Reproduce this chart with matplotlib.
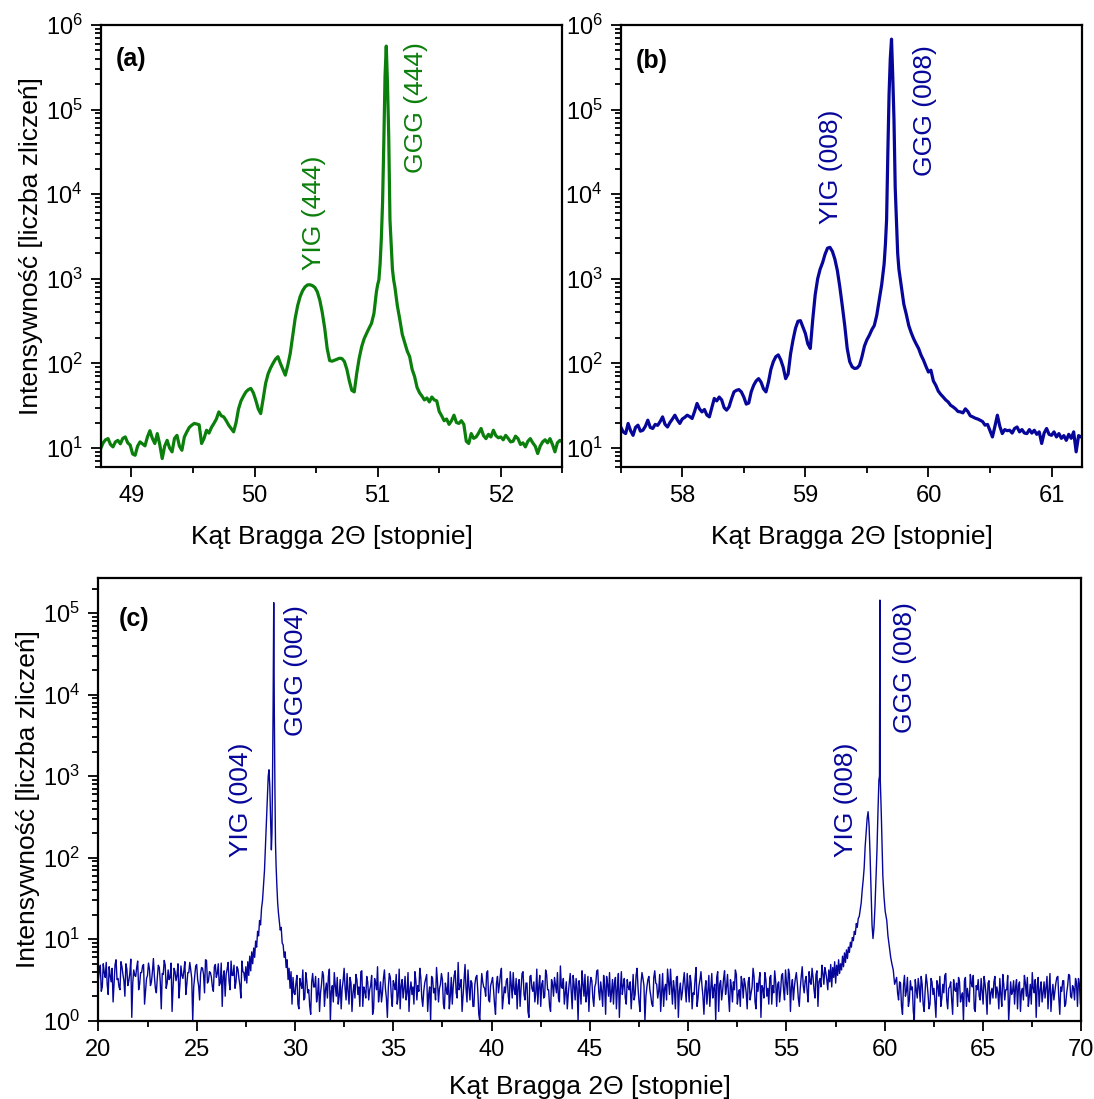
import numpy as np
import matplotlib
matplotlib.use("Agg")
import matplotlib.pyplot as plt
from matplotlib.ticker import MultipleLocator, LogLocator, NullFormatter


# -----------------------------
# Data
# -----------------------------

# (a) YIG (444) / GGG (444), scan in two 0.02 deg steps plus the sharp peak
a_start_1 = 48.75
a_vals_1 = [
    9.8, 11.5, 12.5, 12.9, 11.0, 10.3, 11.8, 12.3, 11.2, 13.0,
    13.5, 11.5, 10.8, 8.5, 8.2, 10.5, 11.8, 11.2, 10.6, 13.5,
    16.0, 13.0, 11.3, 14.8, 11.0, 7.5, 10.5, 12.3, 10.0, 9.0,
    13.0, 14.1, 10.5, 9.4, 13.5, 15.5, 17.5, 18.6, 19.5, 19.2,
    18.8, 11.3, 13.0, 16.2, 15.0, 17.5, 19.5, 22.0, 26.7, 24.0,
    23.3, 21.0, 18.6, 17.0, 15.5, 20.0, 29.0, 36.0, 41.0, 46.0,
    49.0, 50.6, 45.0, 36.7, 29.0, 25.5, 38.0, 58.0, 75.0, 88.0,
    100.0, 112.0, 120.0, 100.0, 85.0, 72.6, 95.0, 131.0, 210.0, 340.0,
    480.0, 614.0, 720.0, 800.0, 845.0, 850.0, 830.0, 790.0, 700.0, 560.0,
    400.0, 260.0, 150.0, 108.0, 106.0, 109.0, 112.0, 115.0, 114.0, 105.0,
    85.0, 62.0, 48.0, 46.0, 76.0, 115.0, 157.0, 195.0, 226.0, 260.0,
    297.0, 390.0, 700.0,
]
a_peak_theta = [51.00, 51.01, 51.02, 51.03, 51.04, 51.05, 51.06, 51.07,
                51.08, 51.09, 51.10, 51.11, 51.12, 51.13]
a_peak_vals = [850.0, 970.0, 1500.0, 3000.0, 8000.0, 40000.0, 250000.0,
               562000.0, 200000.0, 48000.0, 5000.0, 2500.0, 1300.0, 970.0]
a_start_2 = 51.14
a_vals_2 = [
    800.0, 480.0, 330.0, 220.0, 175.0, 140.0, 120.0, 85.0, 70.0, 52.0,
    45.0, 41.0, 37.0, 39.0, 35.0, 40.0, 37.0, 36.0, 27.0, 24.0,
    21.0, 22.0, 19.0, 21.0, 24.4, 20.0, 19.5, 21.0, 19.0, 12.0,
    11.3, 14.8, 13.0, 13.5, 15.0, 17.0, 14.0, 12.9, 14.5, 13.5,
    16.2, 14.0, 13.2, 13.5, 12.5, 14.1, 13.0, 11.8, 12.0, 13.8,
    12.9, 11.0, 11.5, 10.3, 12.0, 12.9, 11.5, 10.5, 8.6, 10.5,
    11.8, 12.5, 11.5, 12.9, 11.0, 9.0, 11.5, 12.3, 11.8,
]

# (b) YIG (008) / GGG (008)
b_start_1 = 57.50
b_vals_1 = [
    17.7, 15.5, 14.8, 19.5, 16.0, 14.1, 17.5, 18.6, 15.8, 16.2,
    18.0, 21.3, 17.5, 17.0, 19.0, 18.5, 20.5, 23.3, 19.0, 17.7,
    20.0, 22.0, 24.4, 21.5, 19.5, 22.0, 23.0, 24.4, 23.5, 22.3,
    27.0, 33.6, 29.0, 26.7, 28.5, 24.5, 23.3, 30.0, 38.5, 36.0,
    40.0, 37.0, 30.0, 28.0, 30.6, 38.0, 46.0, 48.0, 49.0, 46.0,
    40.0, 33.0, 34.0, 46.0, 55.0, 62.0, 66.0, 60.0, 50.0, 46.0,
    60.0, 85.0, 105.0, 120.0, 126.0, 110.0, 90.0, 66.0, 75.0, 130.0,
    190.0, 260.0, 315.0, 320.0, 270.0, 226.0, 170.0, 150.0, 330.0, 650.0,
    1000.0, 1300.0, 1550.0, 1950.0, 2300.0, 2350.0, 2100.0, 1700.0, 1250.0, 800.0,
    480.0, 280.0, 150.0, 105.0, 91.0, 87.0, 88.0, 95.0, 120.0, 160.0,
    190.0, 215.0, 250.0, 280.0, 370.0, 560.0, 850.0, 1500.0,
]
b_peak_theta = [59.65, 59.66, 59.67, 59.68, 59.69, 59.70, 59.71, 59.72,
                59.73, 59.74, 59.75, 59.76]
b_peak_vals = [2500.0, 5000.0, 30000.0, 150000.0, 400000.0, 680000.0,
               250000.0, 76000.0, 12000.0, 5000.0, 2000.0, 1300.0]
b_start_2 = 59.78
b_vals_2 = [
    800.0, 500.0, 380.0, 280.0, 230.0, 195.0, 170.0, 150.0, 125.0, 109.0,
    92.0, 79.0, 83.0, 62.0, 55.0, 47.0, 43.0, 40.0, 37.0, 35.0,
    32.0, 30.6, 29.0, 27.0, 26.7, 26.0, 29.0, 27.0, 24.0, 23.3,
    22.5, 22.0, 21.3, 20.5, 18.6, 19.0, 16.0, 13.5, 18.0, 24.4,
    18.0, 14.8, 16.5, 16.0, 16.2, 15.0, 17.0, 17.7, 15.5, 16.5,
    15.0, 14.8, 16.5, 15.0, 16.2, 14.5, 15.5, 11.3, 15.0, 17.0,
    14.5, 14.1, 15.5, 13.5, 14.8, 13.0, 14.0, 12.3, 14.5, 13.0,
    15.5, 9.0, 14.0, 13.5,
]

# (c) full scan 20-70 deg; background read on a 0.1 deg grid and on the
# grid shifted by 0.05 deg, peaks listed apart
c_start_1 = 20.0
c_vals_1 = [
    3.2, 4.8, 2.6, 3.9, 5.2, 2.1, 3.6, 4.4, 2.9, 5.6,
    3.3, 2.4, 4.6, 3.1, 5.0, 2.7, 3.8, 1.1, 4.2, 3.5,
    5.4, 2.8, 3.9, 4.9, 2.3, 3.6, 4.3, 3.0, 5.8, 2.5,
    3.4, 4.5, 1.4, 3.7, 4.8, 2.9, 3.2, 5.1, 2.6, 4.0,
    3.6, 1.9, 4.7, 3.3, 5.3, 2.8, 3.9, 4.2, 1.0, 3.5,
    4.9, 2.7, 3.8, 4.4, 2.2, 5.5, 3.1, 3.9, 2.6, 4.6,
    3.4, 5.0, 2.9, 1.5, 4.1, 3.7, 5.2, 2.4, 3.6, 4.8,
    3.0, 4.3, 2.7, 5.4, 3.9,
]
c_vals_1b = [
    4.1, 2.3, 5.0, 3.4, 2.8, 4.6, 3.0, 1.7, 4.9, 3.2,
    2.6, 5.3, 3.7, 2.0, 4.3, 3.1, 5.7, 2.9, 3.6, 4.5,
    2.4, 3.9, 4.7, 1.6, 3.3, 5.1, 2.7, 4.0, 3.5, 2.2,
    4.8, 3.0, 3.8, 5.5, 2.5, 4.2, 3.4, 1.3, 4.4, 3.1,
    5.0, 2.8, 3.6, 4.1, 2.1, 3.9, 5.2, 3.3, 2.6, 4.7,
    3.2, 1.8, 4.5, 3.7, 5.6, 2.9, 4.0, 3.4, 2.3, 4.9,
    3.8, 2.7, 5.1, 3.5, 2.0, 4.3, 3.0, 5.4, 3.6, 2.5,
    4.6, 3.3, 1.9, 4.0, 3.1,
]
c_peak1_theta = [27.50, 27.55, 27.60, 27.65, 27.70, 27.75, 27.80, 27.85,
                 27.90, 27.95, 28.00, 28.05, 28.10, 28.15, 28.20, 28.25,
                 28.30, 28.35, 28.40, 28.45, 28.50, 28.55, 28.60, 28.64,
                 28.68, 28.72, 28.76, 28.80, 28.83, 28.86, 28.89, 28.92,
                 28.95, 28.98, 29.01, 29.04, 29.08, 29.12, 29.16, 29.20,
                 29.25, 29.30, 29.35, 29.40, 29.45, 29.50, 29.55, 29.60,
                 29.65, 29.70, 29.75, 29.80, 29.85, 29.90, 29.95]
c_peak1_vals = [4.6, 2.9, 5.3, 3.6, 6.2, 4.1, 7.0, 5.0,
                7.8, 6.0, 9.5, 8.0, 12.5, 11.0, 17.0, 15.0,
                24.0, 30.0, 45.0, 70.0, 140.0, 300.0, 600.0, 1000.0,
                1200.0, 750.0, 300.0, 125.0, 200.0, 1000.0, 8000.0, 135000.0,
                6000.0, 700.0, 150.0, 80.0, 45.0, 28.0, 21.0, 17.0,
                13.0, 14.0, 9.0, 8.5, 6.0, 7.0, 4.5, 5.6,
                3.2, 4.4, 2.5, 4.0, 1.6, 3.4, 2.2]
c_start_2 = 30.0
c_vals_2 = [
    2.1, 3.6, 1.4, 2.8, 4.2, 1.9, 3.1, 2.4, 1.2, 3.8,
    2.6, 1.7, 3.3, 2.2, 4.0, 1.5, 2.9, 3.5, 1.0, 2.7,
    3.9, 2.0, 1.6, 3.2, 2.5, 4.4, 1.8, 2.3, 3.4, 1.3,
    2.8, 3.7, 2.1, 1.5, 4.1, 2.6, 1.9, 3.0, 2.4, 3.6,
    1.4, 2.9, 4.6, 2.2, 1.7, 3.3, 2.5, 1.1, 3.8, 2.0,
    3.1, 2.4, 1.6, 4.3, 2.7, 1.9, 3.5, 2.2, 1.3, 3.0,
    2.6, 4.0, 1.8, 2.3, 3.4, 1.5, 2.9, 3.7, 2.1, 1.0,
    3.3, 2.5, 4.5, 1.7, 2.8, 3.2, 1.4, 2.4, 3.9, 2.0,
    1.6, 3.6, 2.2, 5.2, 2.7, 1.3, 3.1, 2.5, 4.2, 1.8,
    2.9, 1.5, 3.4, 2.3, 1.0, 3.8, 2.6, 2.0, 4.1, 1.7,
    3.0, 2.4, 1.2, 3.5, 2.8, 4.4, 1.9, 2.2, 3.3, 1.6,
    2.7, 3.9, 2.1, 1.4, 3.2, 2.5, 4.0, 1.8, 2.9, 1.1,
    3.6, 2.3, 1.7, 4.3, 2.6, 1.5, 3.1, 2.0, 3.7, 2.4,
    1.3, 2.8, 3.4, 2.2, 1.9, 4.7, 2.5, 1.6, 3.0, 2.1,
    3.8, 1.4, 2.7, 3.3, 1.0, 2.4, 4.1, 2.0, 1.7, 3.5,
    2.6, 3.1, 1.5, 2.9, 4.2, 1.8, 2.3, 3.6, 1.2, 2.8,
    3.9, 2.2, 1.6, 3.4, 2.5, 1.1, 4.0, 2.7, 1.9, 3.2,
    2.4, 1.4, 3.7, 2.1, 4.4, 1.7, 2.9, 3.3, 1.0, 2.6,
    3.5, 2.0, 1.5, 4.1, 2.8, 2.3, 1.3, 3.8, 2.5, 1.8,
    3.0, 4.3, 1.6, 2.4, 3.4, 1.1, 2.9, 2.2, 3.9, 1.7,
    2.6, 3.6, 1.4, 2.1, 4.5, 1.9, 3.2, 2.7, 1.2, 3.1,
    2.3, 1.5, 3.8, 2.5, 1.0, 4.0, 2.8, 1.8, 3.3, 2.1,
    3.7, 1.3, 2.6, 3.0, 4.2, 1.6, 2.4, 3.5, 1.9, 2.8,
    1.4, 3.4, 2.2, 4.4, 1.7, 2.9, 3.1, 1.1, 2.5, 3.9,
    2.0, 1.6, 3.6, 2.7, 4.1, 1.5, 3.0, 2.3, 3.8, 1.8,
    2.9, 4.3, 1.3, 3.2, 2.6, 3.9, 1.9, 2.5, 4.6, 2.2,
    3.5, 1.7, 3.0, 4.4, 2.4, 3.7, 1.5, 3.3, 4.8, 2.8,
    3.9,
]
c_vals_2b = [
    2.9, 1.6, 3.3, 2.5, 1.8, 3.9, 2.2, 1.5, 3.0, 2.6,
    3.5, 2.1, 1.3, 2.8, 3.6, 2.4, 1.9, 4.3, 2.3, 1.7,
    2.7, 3.4, 2.0, 1.4, 3.1, 2.5, 3.8, 1.6, 2.9, 2.2,
    1.9, 3.2, 2.6, 4.0, 1.5, 2.3, 3.5, 1.8, 2.7, 1.2,
    3.3, 2.4, 1.7, 3.0, 2.2, 4.2, 1.9, 2.6, 3.4, 1.5,
    2.8, 3.7, 2.0, 1.4, 3.2, 2.5, 1.8, 3.9, 2.4, 2.1,
    1.6, 3.1, 2.7, 4.4, 1.9, 2.3, 3.3, 1.3, 2.6, 3.5,
    2.2, 1.8, 3.0, 2.5, 3.8, 1.6, 2.9, 2.1, 1.4, 3.4,
    2.7, 4.1, 1.9, 2.4, 3.2, 2.0, 4.9, 1.7, 2.6, 3.1,
    1.5, 2.8, 3.6, 1.2, 2.3, 3.0, 2.5, 3.9, 1.8, 2.7,
    3.4, 1.6, 2.9, 2.2, 3.7, 1.4, 2.6, 3.1, 2.0, 4.0,
    1.9, 2.4, 3.3, 2.7, 1.5, 3.8, 2.1, 2.9, 1.3, 3.5,
    2.5, 3.0, 2.2, 1.6, 3.6, 2.8, 1.9, 4.2, 2.4, 1.5,
    3.2, 2.0, 2.7, 3.9, 1.7, 2.6, 3.3, 2.2, 1.4, 2.9,
    2.3, 3.6, 1.8, 2.5, 3.1, 1.6, 2.8, 3.7, 2.1, 1.3,
    3.4, 1.9, 2.6, 4.1, 2.3, 3.0, 1.5, 2.7, 3.5, 2.0,
    1.7, 3.2, 2.9, 1.4, 3.8, 2.4, 2.1, 3.3, 1.6, 2.6,
    3.0, 2.2, 1.8, 3.6, 2.5, 1.3, 3.9, 2.7, 2.0, 3.2,
    2.4, 1.6, 3.4, 2.9, 1.9, 3.7, 2.2, 1.5, 2.8, 4.3,
    2.1, 2.6, 3.1, 1.4, 3.5, 2.3, 1.8, 3.0, 2.5, 3.8,
    1.7, 2.9, 2.2, 3.3, 1.5, 2.7, 4.0, 2.0, 2.4, 1.6,
    3.6, 2.5, 1.9, 2.8, 3.4, 1.3, 3.1, 2.3, 4.1, 2.6,
    2.0, 3.2, 1.7, 2.4, 3.7, 2.1, 1.5, 2.9, 3.3, 2.2,
    3.0, 1.8, 2.6, 3.5, 1.4, 2.3, 3.9, 2.7, 1.9, 3.2,
    2.5, 3.4, 1.6, 2.2, 3.0, 2.8, 1.7, 3.6, 2.4, 4.2,
    2.1, 3.7, 2.6, 1.8, 3.3, 2.9, 1.5, 3.5, 2.7, 3.1,
    2.3, 4.0, 2.8, 3.4, 1.9, 4.1, 3.0, 2.6, 3.8, 4.5,
    3.2,
]
c_peak2_theta = [57.10, 57.15, 57.20, 57.25, 57.30, 57.35, 57.40, 57.45,
                 57.50, 57.55, 57.60, 57.65, 57.70, 57.75, 57.80, 57.85,
                 57.90, 57.95, 58.00, 58.05, 58.10, 58.15, 58.20, 58.25,
                 58.30, 58.35, 58.40, 58.45, 58.50, 58.55, 58.60, 58.65,
                 58.70, 58.75, 58.80, 58.85, 58.90, 58.95, 59.00, 59.05,
                 59.10, 59.15, 59.20, 59.25, 59.30, 59.35, 59.40, 59.45,
                 59.50, 59.55, 59.60, 59.65, 59.70, 59.73, 59.75, 59.77,
                 59.82, 59.86, 59.90, 59.96, 60.02, 60.10, 60.16, 60.23,
                 60.30, 60.36, 60.43, 60.50]
c_peak2_vals = [2.4, 4.2, 3.0, 4.9, 2.6, 4.5, 3.4, 5.3,
                2.9, 4.8, 3.6, 5.6, 3.8, 5.0, 4.2, 6.2,
                4.6, 6.8, 5.2, 7.4, 5.8, 8.0, 6.9, 9.2,
                8.0, 10.5, 9.6, 12.5, 11.5, 15.6, 14.0, 18.0,
                19.0, 23.0, 28.0, 40.0, 53.0, 75.0, 136.0, 200.0,
                300.0, 367.0, 250.0, 110.0, 40.0, 15.0, 10.2, 14.0,
                25.0, 53.0, 120.0, 350.0, 900.0, 1000.0, 145000.0, 900.0,
                355.0, 140.0, 60.0, 33.0, 22.0, 17.0, 11.0, 8.1,
                6.0, 5.0, 4.2, 2.8]
c_start_3 = 60.6
c_vals_3 = [
    3.4, 1.8, 2.9, 1.2, 3.6, 2.3, 1.5, 3.1, 2.6, 1.0,
    2.4, 3.3, 1.7, 2.8, 1.3, 3.7, 2.1, 1.6, 3.0, 2.5,
    1.1, 2.7, 3.5, 1.9, 2.2, 3.8, 1.4, 2.6, 1.8, 3.2,
    2.3, 1.5, 3.0, 2.0, 1.0, 3.4, 2.5, 1.7, 2.9, 3.6,
    1.3, 2.4, 2.0, 3.3, 1.6, 2.8, 1.2, 3.1, 2.2, 1.9,
    3.5, 2.6, 1.4, 2.1, 3.7, 1.8, 2.4, 1.0, 3.0, 2.3,
    1.6, 3.2, 2.7, 1.3, 2.5, 3.6, 2.0, 1.5, 2.8, 3.9,
    2.2, 1.1, 3.4, 2.4, 1.7, 3.0, 2.6, 1.4, 3.8, 2.1,
    1.8, 2.9, 3.5, 1.2, 2.3, 3.1, 1.6, 2.7, 3.6, 1.9,
    2.5, 3.3, 1.5, 2.8, 2.2,
]
c_vals_3b = [
    2.2, 3.0, 1.5, 2.7, 2.0, 3.4, 1.8, 2.4, 1.3, 3.2,
    1.9, 2.6, 3.5, 1.6, 2.3, 2.9, 1.4, 3.3, 2.1, 1.7,
    3.1, 2.0, 1.5, 2.8, 3.6, 1.8, 2.5, 3.0, 1.2, 2.4,
    2.9, 3.4, 1.7, 2.2, 3.1, 1.5, 2.0, 3.7, 2.6, 1.4,
    2.7, 3.2, 1.8, 2.3, 3.5, 2.1, 2.9, 1.6, 2.5, 3.0,
    1.9, 2.2, 3.3, 1.5, 2.8, 2.4, 3.6, 1.7, 2.1, 3.1,
    2.6, 1.4, 3.0, 2.3, 1.8, 2.9, 3.4, 2.0, 1.6, 2.5,
    3.2, 2.7, 1.5, 3.0, 2.2, 1.9, 3.5, 2.4, 1.3, 2.8,
    2.3, 3.4, 1.9, 2.6, 3.1, 1.5, 2.2, 3.7, 2.0, 2.7,
    1.8, 2.9, 3.3, 1.6, 2.4,
]


def scan(start, step, values):
    # angles of a uniform scan that carries the listed counts
    return np.round(start + step * np.arange(len(values)), 3)


theta_a = np.concatenate([scan(a_start_1, 0.02, a_vals_1), a_peak_theta,
                          scan(a_start_2, 0.02, a_vals_2)])
counts_a = np.concatenate([a_vals_1, a_peak_vals, a_vals_2])

theta_b = np.concatenate([scan(b_start_1, 0.02, b_vals_1), b_peak_theta,
                          scan(b_start_2, 0.02, b_vals_2)])
counts_b = np.concatenate([b_vals_1, b_peak_vals, b_vals_2])

theta_c = np.concatenate([
    scan(c_start_1, 0.1, c_vals_1), scan(c_start_1 + 0.05, 0.1, c_vals_1b),
    c_peak1_theta,
    scan(c_start_2, 0.1, c_vals_2), scan(c_start_2 + 0.05, 0.1, c_vals_2b),
    c_peak2_theta,
    scan(c_start_3, 0.1, c_vals_3), scan(c_start_3 + 0.05, 0.1, c_vals_3b),
])
counts_c = np.concatenate([c_vals_1, c_vals_1b, c_peak1_vals,
                           c_vals_2, c_vals_2b, c_peak2_vals,
                           c_vals_3, c_vals_3b])
order = np.argsort(theta_c, kind="stable")
theta_c = theta_c[order]
counts_c = counts_c[order]


# -----------------------------
# Style
# -----------------------------

plt.rcParams["font.family"] = ["Liberation Sans", "DejaVu Sans"]
plt.rcParams["mathtext.default"] = "regular"

green = "#0b7f0b"
navy = "#06069a"

ylabel_txt = "Intensywność [liczba zliczeń]"
xlabel_txt = "Kąt Bragga 2Θ [stopnie]"


def style_axis(ax, major, minor):
    for side in ["left", "bottom", "top", "right"]:
        ax.spines[side].set_linewidth(1.6)
    ax.set_yscale("log")
    ax.xaxis.set_major_locator(MultipleLocator(major))
    ax.xaxis.set_minor_locator(MultipleLocator(minor))
    ax.yaxis.set_major_locator(LogLocator(base=10, numticks=12))
    ax.yaxis.set_minor_locator(LogLocator(base=10, subs=np.arange(2, 10), numticks=12))
    ax.yaxis.set_minor_formatter(NullFormatter())
    ax.tick_params(which="both", direction="out", top=False, right=False,
                   width=1.3, labelsize=17)
    ax.tick_params(which="major", length=7, pad=6)
    ax.tick_params(which="minor", length=4)


fig = plt.figure(figsize=(10.94, 10.99), dpi=100)


# -----------------------------
# (a)
# -----------------------------

ax_a = fig.add_axes([0.0920, 0.5753, 0.4220, 0.4020])
ax_a.plot(theta_a, counts_a, color=green, linewidth=2.3)
style_axis(ax_a, 1, 0.5)
ax_a.set_xlim(48.75, 52.5)
ax_a.set_ylim(6, 1e6)
ax_a.set_xlabel(xlabel_txt, fontsize=19, labelpad=13)
ax_a.set_ylabel(ylabel_txt, fontsize=19, labelpad=2)
ax_a.text(0.033, 0.95, "(a)", transform=ax_a.transAxes, fontsize=18,
          fontweight="bold", ha="left", va="top")
ax_a.text(50.48, 1270, "YIG (444)", color=green, fontsize=19,
          rotation=90, ha="center", va="bottom")
ax_a.text(51.31, 17800, "GGG (444)", color=green, fontsize=19,
          rotation=90, ha="center", va="bottom")


# -----------------------------
# (b)
# -----------------------------

ax_b = fig.add_axes([0.5674, 0.5753, 0.4219, 0.4020])
ax_b.plot(theta_b, counts_b, color=navy, linewidth=2.3)
style_axis(ax_b, 1, 0.5)
ax_b.set_xlim(57.5, 61.25)
ax_b.set_ylim(6, 1e6)
ax_b.set_xlabel(xlabel_txt, fontsize=19, labelpad=13)
ax_b.text(0.032, 0.945, "(b)", transform=ax_b.transAxes, fontsize=18,
          fontweight="bold", ha="left", va="top")
ax_b.text(59.21, 4400, "YIG (008)", color=navy, fontsize=19,
          rotation=90, ha="center", va="bottom")
ax_b.text(59.97, 16200, "GGG (008)", color=navy, fontsize=19,
          rotation=90, ha="center", va="bottom")


# -----------------------------
# (c)
# -----------------------------

ax_c = fig.add_axes([0.0899, 0.0712, 0.8986, 0.4028])
ax_c.plot(theta_c, counts_c, color=navy, linewidth=1.0)
style_axis(ax_c, 5, 2.5)
ax_c.set_xlim(20, 70)
ax_c.set_ylim(1, 2.7e5)
ax_c.set_xlabel(xlabel_txt, fontsize=19, labelpad=10)
ax_c.set_ylabel(ylabel_txt, fontsize=19, labelpad=2)
ax_c.text(0.021, 0.935, "(c)", transform=ax_c.transAxes, fontsize=18,
          fontweight="bold", ha="left", va="top")
ax_c.text(27.27, 102, "YIG (004)", color=navy, fontsize=19,
          rotation=90, ha="center", va="bottom")
ax_c.text(30.04, 3100, "GGG (004)", color=navy, fontsize=19,
          rotation=90, ha="center", va="bottom")
ax_c.text(58.02, 102, "YIG (008)", color=navy, fontsize=19,
          rotation=90, ha="center", va="bottom")
ax_c.text(61.04, 3380, "GGG (008)", color=navy, fontsize=19,
          rotation=90, ha="center", va="bottom")

fig.savefig("out.png", dpi=100)
